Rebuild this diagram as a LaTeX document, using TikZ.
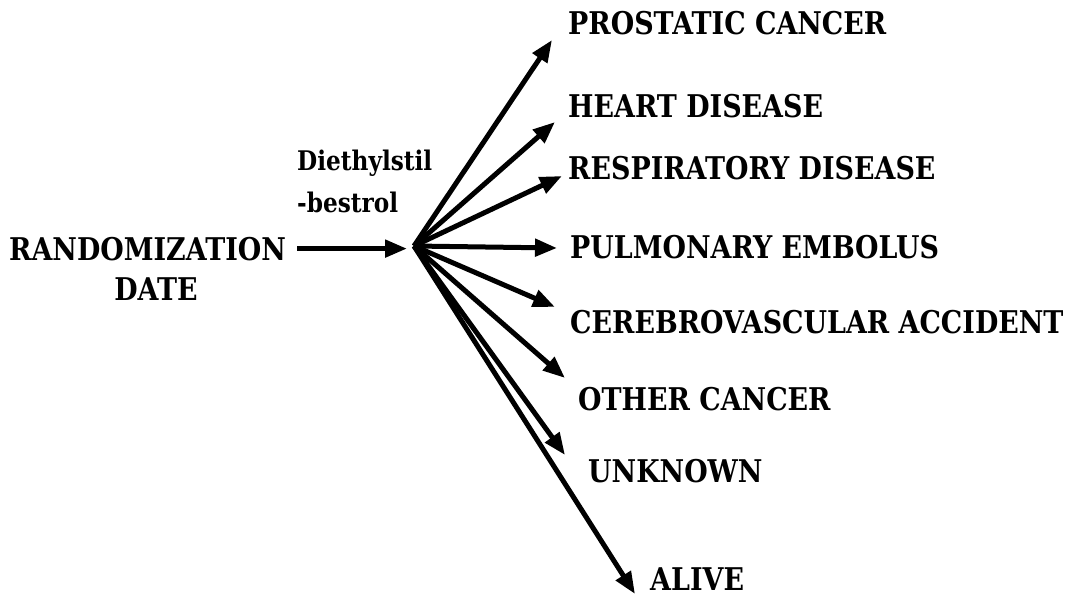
\documentclass[tikz,border=0pt]{standalone}
\usepackage{fontspec}
\setmainfont{DejaVu Serif}[FakeStretch=0.86]
\usetikzlibrary{arrows.meta}

\begin{document}
\begin{tikzpicture}[
  x=1pt, y=-1pt,
  cause/.style={anchor=base west, inner sep=0pt, font=\bfseries\fontsize{31.3}{36}\selectfont},
  start/.style={cause, font=\bfseries\fontsize{31.3}{38}\selectfont},
  drug/.style={cause, font=\bfseries\fontsize{27}{32}\selectfont},
  link/.style={-{Triangle[length=22pt,width=17pt]}, line width=5pt},
]
  \useasboundingbox (0,0) rectangle (1073,596);

  % starting state and treatment
  \node[start] (rand) at (9,260) {RANDOMIZATION};
  \node[start, anchor=base] (date) at (156,300) {DATE};
  \node[drug] (drug1) at (297,171) {Diethylstil};
  \node[drug] (drug2) at (297,212) {-bestrol};
  \coordinate (hub) at (414,246);

  % causes of death
  \node[cause] (pro) at (568,35) {PROSTATIC CANCER};
  \node[cause] (hrt) at (568,118) {HEART DISEASE};
  \node[cause] (rsp) at (568,180) {RESPIRATORY DISEASE};
  \node[cause] (pul) at (570,258) {PULMONARY EMBOLUS};
  \node[cause] (cva) at (570,333) {CEREBROVASCULAR ACCIDENT};
  \node[cause] (oth) at (578,410) {OTHER CANCER};
  \node[cause] (unk) at (588,482) {UNKNOWN};
  \node[cause] (alv) at (650,590) {ALIVE};

  % arrow ends
  \coordinate (tpro) at (552,40);
  \coordinate (thrt) at (555,122);
  \coordinate (trsp) at (562,176);
  \coordinate (tpul) at (557,248);
  \coordinate (tcva) at (555,307);
  \coordinate (toth) at (565,378);
  \coordinate (tunk) at (565,455);
  \coordinate (talv) at (635,594);

  \draw[link] ([xshift=11pt]rand.east) -- ([xshift=-7pt]rand.east -| hub);
  \foreach \t in {tpro,thrt,trsp,tpul,tcva,toth,tunk,talv}
    \draw[link] (hub) -- (\t);
\end{tikzpicture}
\end{document}
